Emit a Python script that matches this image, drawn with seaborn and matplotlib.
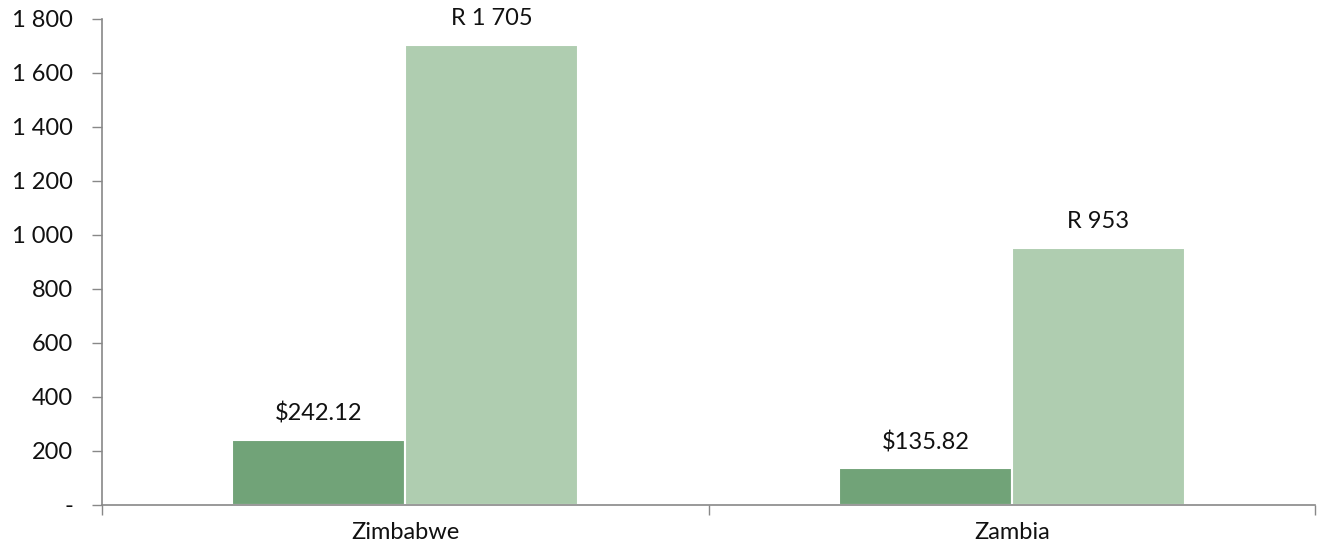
import matplotlib
matplotlib.use("Agg")
import matplotlib.pyplot as plt
import matplotlib.ticker as mticker
import numpy as np
import seaborn as sns
import pandas as pd

# données
countries = ["Zimbabwe", "Zambia"]
series = ["USD", "ZAR"]
usd_values = [242.12, 135.82]
zar_values = [1705, 953]

df = pd.DataFrame({
    "country": countries * 2,
    "series": ["USD"] * 2 + ["ZAR"] * 2,
    "value": usd_values + zar_values,
})

sns.set_theme(style="white")
plt.rcParams['font.family'] = ['Lato', 'DejaVu Sans']

fig = plt.figure(figsize=(13.17, 5.48), dpi=100)
ax = fig.add_axes([0.0775, 0.0785, 0.921, 0.887])

palette = {"USD": "#71a378", "ZAR": "#afcdb0"}
sns.barplot(data=df, x="country", y="value", hue="series", order=countries,
            hue_order=series, palette=palette, width=0.57, gap=0,
            edgecolor="white", linewidth=1.5, saturation=1, legend=False, ax=ax)

# étiquettes des barres
def fmt_label(s, v):
    if s == "USD":
        return f"${v:,.2f}"
    return "R " + f"{v:,.0f}".replace(",", " ")

for cont, s in zip(ax.containers, series):
    labels = [fmt_label(s, v) for v in cont.datavalues]
    ax.bar_label(cont, labels=labels, padding=11, fontsize=17, color="#111111")

ax.set_ylim(0, 1800)
ax.set_xlim(-0.5, 1.5)
ax.yaxis.set_major_locator(mticker.MultipleLocator(200))
ax.yaxis.set_major_formatter(mticker.FuncFormatter(
    lambda v, p: "-" if v == 0 else f"{v:,.0f}".replace(",", " ")))

ax.set_xlabel("")
ax.set_ylabel("")
ax.set_xticks([0, 1], countries)
ax.set_xticks([-0.5, 0.5, 1.5], minor=True)
ax.tick_params(axis="x", which="major", bottom=False, length=0, pad=12,
               labelsize=17, colors="#111111")
ax.tick_params(axis="x", which="minor", bottom=True, length=7, width=1,
               color="#888888", direction="out")
ax.tick_params(axis="y", left=True, length=7, width=1, color="#888888", direction="out",
               pad=14, labelsize=17, labelcolor="#111111")

for side in ["top", "right"]:
    ax.spines[side].set_visible(False)
for side in ["left", "bottom"]:
    ax.spines[side].set_color("#888888")
    ax.spines[side].set_linewidth(1.2)

plt.savefig("out.png", dpi=100)
